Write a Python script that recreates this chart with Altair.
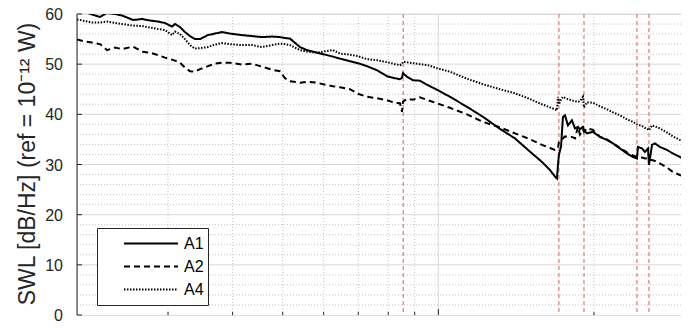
import altair as alt
import pandas as pd

# Frequency axis (Hz, log scale) and sound power levels
freq = [200, 207.3, 213.8, 221.6, 228.6, 236.9, 244.4, 256.7, 267.2, 276.8,
        286.9, 296.0, 305.3, 309.4, 316.4, 323.5, 330.8, 338.3, 345.9, 358.4,
        369.8, 381.5, 395.3, 417.0, 436.0, 455.9, 476.7, 493.9, 505.1, 516.4,
        540.0, 557.1, 582.4, 609.0, 625.5, 645.3, 674.6, 699.1, 727.7, 760.8,
        795.5, 824.4, 842.9, 850.5, 854.3, 869.6, 893.2, 921.4, 954.9, 993.9,
        1053, 1136, 1220, 1316, 1407, 1491, 1587, 1644, 1681, 1696,
        1704, 1711, 1727, 1742, 1758, 1781, 1813, 1838, 1862, 1879,
        1904, 1913, 1939, 1991, 2054, 2119, 2177, 2246, 2317, 2379,
        2422, 2433, 2477, 2510, 2544, 2555, 2590, 2624, 2683, 2768,
        2843, 2933, 3053]

a1 = [61.0, 60.4, 59.9, 59.4, 60.2, 60.0, 59.7, 58.8, 59.0, 58.7,
      58.5, 58.2, 57.5, 58.0, 57.4, 56.4, 55.6, 55.0, 55.0, 55.8,
      56.1, 56.4, 56.1, 55.8, 55.6, 55.4, 55.5, 55.4, 55.2, 55.1,
      53.4, 52.8, 52.3, 51.8, 51.5, 51.1, 50.6, 50.2, 49.6, 48.8,
      47.6, 47.2, 47.0, 47.3, 48.2, 47.5, 46.8, 46.7, 45.8, 44.9,
      43.5, 41.5, 39.5, 37.1, 35.2, 32.9, 30.5, 28.9, 27.6, 27.2,
      30.0, 32.0, 33.5, 39.5, 39.8, 37.8, 38.8, 37.2, 37.5, 37.0,
      37.5, 36.8, 36.2, 36.5, 35.5, 34.9, 34.2, 33.2, 32.2, 31.5,
      31.2, 33.5, 33.2, 32.5, 33.2, 29.9, 33.9, 34.2, 33.5, 32.9,
      32.2, 31.5, 30.4]

a2 = [54.9, 54.5, 54.3, 54.0, 52.8, 53.3, 53.0, 53.5, 52.5, 52.3,
      51.8, 51.3, 50.9, 50.7, 50.3, 49.3, 48.6, 48.5, 49.0, 49.6,
      50.1, 50.3, 50.3, 49.9, 50.1, 49.5, 48.9, 48.6, 47.2, 46.6,
      46.3, 46.5, 46.3, 45.8, 45.6, 45.4, 45.0, 44.1, 43.5, 43.2,
      42.8, 42.3, 42.2, 40.5, 42.5, 43.1, 42.9, 43.4, 42.8, 42.2,
      41.3, 40.0, 38.5, 37.4, 36.2, 35.2, 33.9, 33.3, 32.9, 33.0,
      33.2, 34.5, 35.0, 35.2, 35.6, 35.5, 35.5, 35.2, 37.5, 36.0,
      37.0, 36.5, 37.2, 36.9, 35.5, 35.0, 34.2, 33.3, 32.4, 31.8,
      31.5, 31.4, 31.4, 31.2, 31.3, 31.0, 30.9, 30.7, 30.2, 29.4,
      28.5, 27.9, 27.2]

a4 = [58.9, 58.6, 58.3, 58.3, 58.5, 58.2, 58.0, 57.7, 57.6, 57.3,
      57.0, 56.8, 55.8, 56.5, 56.0, 55.0, 53.8, 53.1, 53.2, 53.4,
      53.9, 54.2, 54.0, 53.8, 53.8, 53.4, 53.8, 54.1, 54.0, 53.8,
      52.8, 52.5, 52.3, 52.6, 52.8, 52.1, 51.9, 51.6, 51.0, 50.8,
      50.4, 50.0, 49.8, 50.0, 50.5, 50.4, 50.2, 50.0, 49.8, 49.2,
      48.5, 47.1, 46.0, 45.0, 44.2, 43.2, 42.0, 41.4, 41.0, 40.8,
      43.5, 42.0, 43.0, 43.5, 43.3, 43.0, 42.8, 42.6, 42.5, 42.6,
      43.5, 41.4, 42.4, 42.3, 41.6, 41.0, 40.4, 39.8, 39.0, 38.5,
      38.0, 37.9, 37.7, 37.3, 37.0, 36.8, 37.8, 37.6, 37.2, 36.4,
      35.6, 34.9, 34.2]

series = ["A1", "A2", "A4"]
marker_freq = [855, 1711, 1913, 2422, 2555]
x_grid = [200, 300, 400, 500, 600, 700, 800, 900, 1000, 2000, 3000]
x_major = [1000]
y_grid = list(range(0, 61, 2))
y_major = [0, 10, 20, 30, 40, 50, 60]
y_title = "SWL [dB/Hz] (ref = 10\u207b\u00b9\u00b2 W)"

rows = []
for name, vals in zip(series, [a1, a2, a4]):
    for f, v in zip(freq, vals):
        rows.append({"f": f, "v": v, "s": name})
df = pd.DataFrame(rows)

W, H = 604, 301
FONT = "Liberation Sans"
AX = "#262626"

xscale = alt.Scale(type="log", domain=[200, 2947], nice=False)
yscale = alt.Scale(domain=[0, 60], nice=False, zero=False)

x_axis = alt.Axis(
    values=x_grid, labels=False, ticks=False, title=None, domain=True,
    domainColor=AX, domainWidth=1, grid=False,
)

pad = "\u00a0" * 6
legend = alt.Legend(
    orient="none", legendX=20, legendY=214, title=None,
    strokeColor=AX, fillColor="white", padding=4,
    symbolType="stroke", symbolSize=2916, clipHeight=23, rowPadding=0,
    symbolOffset=22, labelOffset=5, symbolStrokeWidth=2, symbolStrokeColor="black",
    labelFont=FONT, labelFontSize=16, labelColor="black",
    labelExpr="datum.label + '" + pad + "'",
)

# grid lines
ygrid_minor = alt.Chart(pd.DataFrame({"v": [t for t in y_grid if t % 10 != 0]})).mark_rule(
    color="#c4c4c4", strokeDash=[1, 2], strokeWidth=1
).encode(y=alt.Y("v:Q", scale=yscale, axis=None))
ygrid_major = alt.Chart(pd.DataFrame({"v": [t for t in y_major if t != 0]})).mark_rule(
    color="#d8d8d8", strokeWidth=1
).encode(y=alt.Y("v:Q", scale=yscale, axis=None))
xgrid_minor = alt.Chart(pd.DataFrame({"f": [t for t in x_grid if t not in x_major and t != 200]})).mark_rule(
    color="#c4c4c4", strokeDash=[1, 2], strokeWidth=1
).encode(x=alt.X("f:Q", scale=xscale, axis=None))
xgrid_major = alt.Chart(pd.DataFrame({"f": x_major})).mark_rule(
    color="#d8d8d8", strokeWidth=1
).encode(x=alt.X("f:Q", scale=xscale, axis=None))

markers = alt.Chart(pd.DataFrame({"f": marker_freq})).mark_rule(
    color="#e05a5a", strokeDash=[4, 3], strokeWidth=1
).encode(x=alt.X("f:Q", scale=xscale, axis=None))

lines = alt.Chart(df).mark_line(clip=True, color="black").encode(
    x=alt.X("f:Q", scale=xscale, axis=x_axis),
    y=alt.Y("v:Q", scale=yscale, axis=None),
    strokeDash=alt.StrokeDash("s:N", scale=alt.Scale(domain=series, range=[[1, 0], [6, 4], [1.5, 1.5]]), legend=legend),
    strokeWidth=alt.StrokeWidth("s:N", scale=alt.Scale(domain=series, range=[2, 2, 1.5]), legend=None),
)

# inward ticks (MATLAB style)
xt_minor = alt.Chart(pd.DataFrame({"f": [t for t in x_grid if t not in x_major and t != 200]})).mark_rule(
    color=AX, strokeWidth=1
).encode(x=alt.X("f:Q", scale=xscale, axis=None), y=alt.value(H), y2=alt.value(H - 3))
xt_major = alt.Chart(pd.DataFrame({"f": x_major})).mark_rule(
    color=AX, strokeWidth=1
).encode(x=alt.X("f:Q", scale=xscale, axis=None), y=alt.value(H), y2=alt.value(H - 6))
yt = alt.Chart(pd.DataFrame({"v": y_major})).mark_rule(
    color=AX, strokeWidth=1
).encode(y=alt.Y("v:Q", scale=yscale, axis=None), x=alt.value(0), x2=alt.value(5))

# y axis line, labels and title
ydomain = alt.Chart(pd.DataFrame({"v": [0, 60]})).mark_rule(color=AX, strokeWidth=1).encode(
    x=alt.value(0), y=alt.Y("min(v):Q", scale=yscale, axis=None), y2=alt.Y2("max(v):Q")
)
ylabels = alt.Chart(pd.DataFrame({"v": y_major, "lab": [str(t) for t in y_major]})).mark_text(
    align="right", baseline="middle", font=FONT, fontSize=16, color=AX, dy=1
).encode(y=alt.Y("v:Q", scale=yscale, axis=None), x=alt.value(-14), text="lab:N")
ytitle = alt.Chart(pd.DataFrame({"t": [y_title]})).mark_text(
    angle=270, align="center", baseline="middle", font=FONT, fontSize=23, color=AX
).encode(x=alt.value(-49), y=alt.value(150), text="t:N")

chart = alt.layer(
    ygrid_minor, ygrid_major, xgrid_minor, xgrid_major, markers, lines,
    xt_minor, xt_major, yt, ydomain, ylabels, ytitle
).properties(
    width=W, height=H,
    autosize=alt.AutoSizeParams(type="none"),
    padding={"left": 69, "top": 6, "right": 0, "bottom": 10},
).configure_view(strokeWidth=0).configure(background="white")

chart.save("out.html", embed_options={"renderer": "svg", "actions": False})
